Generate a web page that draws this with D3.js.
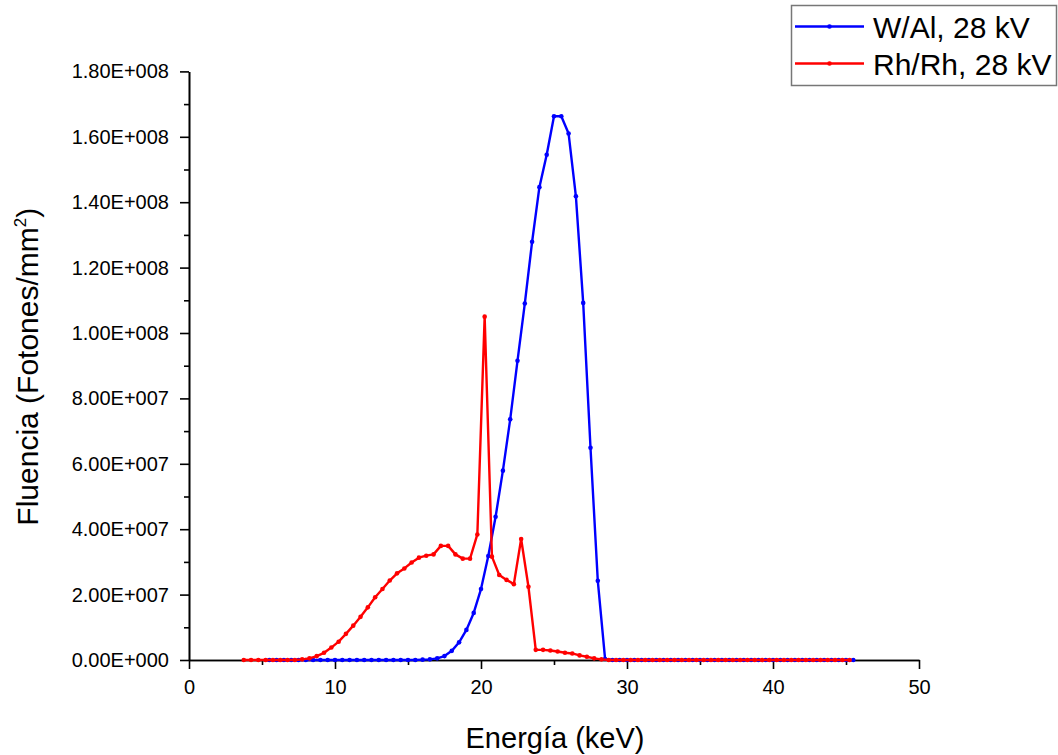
<!DOCTYPE html>
<html>
<head>
<meta charset="utf-8">
<script src="https://cdn.jsdelivr.net/npm/d3@7"></script>
<style>
  body { margin: 0; background: #fff; }
  text { font-family: "Liberation Sans", Arial, sans-serif; fill: #000; }
</style>
</head>
<body>
<div id="grafico"></div>
<script>
// energia (keV) e fluencia (x 1e6 fotones/mm2) de cada espectro
var energiaW = [5.5,6,6.5,7,7.5,8,8.5,9,9.5,10,10.5,11,11.5,12,12.5,13,13.5,14,14.5,15,15.5,
  16,16.5,17,17.5,18,18.5,19,19.5,20,20.5,21,21.5,22,22.5,23,23.5,24,24.5,25,25.5,26,26.5,27,27.5,28,28.5,
  29,29.5,30,30.5,31,31.5,32,32.5,33,33.5,34,34.5,35,35.5,36,36.5,37,37.5,38,38.5,39,39.5,40,40.5,41,41.5,
  42,42.5,43,43.5,44,44.5,45,45.5];
var fluenciaW = [0,0,0,0,0,0,0,0,0,0,0,0,0,0,0,0,0,0,0,0,0,
  0.1,0.2,0.5,1.2,2.8,5.4,9.2,14.4,21.7,31.8,43.8,57.9,73.6,91.5,109.0,127.9,144.6,154.5,166.3,166.3,161.0,141.8,109.2,64.9,24.2,0.3,
  0,0,0,0,0,0,0,0,0,0,0,0,0,0,0,0,0,0,0,0,0,0,0,0,0,0,0,0,0,0,0,0,0,0];

var energiaRh = [3.75,4.25,4.75,5.25,5.75,6.25,6.75,7.25,
  7.75,8.25,8.75,9.25,9.75,10.25,10.75,11.25,11.75,12.25,12.75,13.25,13.75,14.25,14.75,15.25,15.75,16.25,16.75,17.25,17.75,
  18.25,18.75,19.25,19.75,20.25,20.75,21.25,21.75,22.25,22.75,23.25,23.75,24.25,24.75,25.25,25.75,26.25,26.75,27.25,27.75,28.25,
  28.75,29.25,29.75,30.25,30.75,31.25,31.75,32.25,32.75,33.25,33.75,34.25,34.75,35.25,35.75,36.25,36.75,37.25,37.75,38.25,
  38.75,39.25,39.75,40.25,40.75,41.25,41.75,42.25,42.75,43.25,43.75,44.25,44.75,45.25];
var fluenciaRh = [0,0,0,0,0,0,0,0,
  0.2,0.5,1.2,2.2,3.8,5.6,8.0,10.5,13.2,16.1,19.2,21.7,24.3,26.5,28.0,29.8,31.3,31.9,32.3,34.9,34.9,
  32.3,31.0,31.0,38.4,105.0,31.6,26.0,24.5,23.2,37.0,22.4,3.1,3.1,2.9,2.6,2.2,2.0,1.4,1.0,0.5,0.2,
  0,0,0,0,0,0,0,0,0,0,0,0,0,0,0,0,0,0,0,0,0,0,0,0,0,0,0,0,0,0,0,0,0,0];

var xTicks = [0, 10, 20, 30, 40, 50];
var xMinor = [5, 15, 25, 35, 45];
var yTicks = [0, 2e7, 4e7, 6e7, 8e7, 1e8, 1.2e8, 1.4e8, 1.6e8, 1.8e8];
var yMinor = [1e7, 3e7, 5e7, 7e7, 9e7, 1.1e8, 1.3e8, 1.5e8, 1.7e8];

var series = [
  {nome: "W/Al, 28 kV", cor: "#0000ff", x: energiaW, y: fluenciaW},
  {nome: "Rh/Rh, 28 kV", cor: "#ff0000", x: energiaRh, y: fluenciaRh}
];

var width = 1058, height = 755;
var svg = d3.select("#grafico").append("svg")
  .attr("width", width).attr("height", height);
svg.append("rect").attr("width", width).attr("height", height).attr("fill", "#fff");

var xScale = d3.scaleLinear().domain([0, 50]).range([189, 919]);
var yScale = d3.scaleLinear().domain([0, 1.8e8]).range([660, 71.4]);

// formato 1.80E+008
function fmtExp(v){
  if (v === 0) return "0.00E+000";
  var e = Math.floor(Math.log10(v) + 1e-9);
  var m = v / Math.pow(10, e);
  return m.toFixed(2) + "E+" + String(e).padStart(3, "0");
}

// eixos
var axisFont = "20px";
svg.append("g")
  .attr("transform", "translate(0," + yScale(0) + ")")
  .call(d3.axisBottom(xScale).tickValues(xTicks).tickSize(9).tickSizeOuter(0).tickPadding(11));
svg.append("g")
  .attr("transform", "translate(0," + yScale(0) + ")")
  .call(d3.axisBottom(xScale).tickValues(xMinor).tickSize(5).tickSizeOuter(0).tickFormat(""));

svg.append("g")
  .attr("transform", "translate(" + xScale(0) + ",0)")
  .call(d3.axisLeft(yScale).tickValues(yTicks).tickSize(9).tickSizeOuter(0).tickPadding(11).tickFormat(fmtExp));
svg.append("g")
  .attr("transform", "translate(" + xScale(0) + ",0)")
  .call(d3.axisLeft(yScale).tickValues(yMinor).tickSize(5).tickSizeOuter(0).tickFormat(""));

svg.selectAll(".domain, .tick line").attr("stroke", "#000").attr("stroke-width", 1.6);
svg.selectAll(".tick text")
  .style("font-family", "'Liberation Sans', Arial, sans-serif")
  .style("font-size", axisFont).attr("fill", "#000");

// titulos
svg.append("text")
  .attr("x", (xScale(0) + xScale(50)) / 2 + 1).attr("y", 748)
  .attr("text-anchor", "middle").style("font-size", "29px")
  .text("Energía (keV)");

var yt = svg.append("text")
  .attr("transform", "translate(38," + ((yScale(0) + yScale(1.8e8)) / 2 + 1) + ") rotate(-90)")
  .attr("text-anchor", "middle").style("font-size", "30px");
yt.append("tspan").text("Fluencia (Fotones/mm");
yt.append("tspan").attr("dy", -12).style("font-size", "17px").text("2");
yt.append("tspan").attr("dy", 12).text(")");

// curvas
var line = d3.line()
  .x(function(d){ return xScale(d[0]); })
  .y(function(d){ return yScale(d[1] * 1e6); });

series.forEach(function(s){
  var pts = s.x.map(function(v, i){ return [v, s.y[i]]; });
  var g = svg.append("g");
  g.append("path").datum(pts)
    .attr("d", line).attr("fill", "none")
    .attr("stroke", s.cor).attr("stroke-width", 2.4)
    .attr("stroke-linejoin", "round");
  g.selectAll("circle").data(pts).enter().append("circle")
    .attr("cx", function(d){ return xScale(d[0]); })
    .attr("cy", function(d){ return yScale(d[1] * 1e6); })
    .attr("r", 2.3).attr("fill", s.cor);
});

// legenda
var leg = svg.append("g");
leg.append("rect")
  .attr("x", 791.5).attr("y", 5.5).attr("width", 265).attr("height", 80)
  .attr("fill", "#fff").attr("stroke", "#777").attr("stroke-width", 1.5);
series.forEach(function(s, i){
  var ly = 26.5 + i * 37;
  leg.append("line").attr("x1", 795).attr("x2", 864).attr("y1", ly).attr("y2", ly)
    .attr("stroke", s.cor).attr("stroke-width", 2.4);
  leg.append("circle").attr("cx", 829.5).attr("cy", ly).attr("r", 2.3).attr("fill", s.cor);
  leg.append("text").attr("x", 873).attr("y", ly + 11)
    .style("font-size", "30px").text(s.nome);
});
</script>
</body>
</html>
